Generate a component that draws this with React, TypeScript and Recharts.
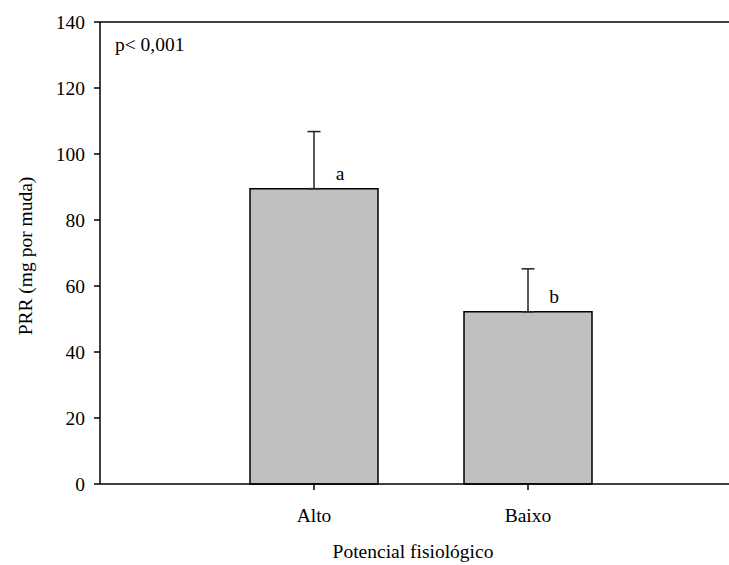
import React from "react";
import {
  BarChart,
  Bar,
  XAxis,
  YAxis,
  ErrorBar,
  LabelList,
  Label,
  ReferenceLine,
} from "recharts";

// categories and values
const categories = ["Alto", "Baixo"];
const means = [89.5, 52.2];
const errorsUp = [17.3, 13.0];
const letters = ["a", "b"];
const yTicks = [0, 20, 40, 60, 80, 100, 120, 140];

const data = categories.map((c, i) => ({
  name: c,
  value: means[i],
  err: [0, errorsUp[i]],
  letter: letters[i],
}));

const FONT = "Liberation Serif, Times New Roman, DejaVu Serif, serif";
const FS = 19.5;
const txt = { fontFamily: FONT, fontSize: FS };

const LetterLabel = (props: any) => {
  const { x, y, width, value } = props;
  return (
    <text
      x={x + width / 2 + 26}
      y={y - 9}
      textAnchor="middle"
      style={txt}
      fill="#000"
    >
      {value}
    </text>
  );
};

const App: React.FC = () => {
  return (
    <div style={{ position: "absolute", left: 0, top: 0, fontFamily: FONT }}>
      <BarChart
        width={729}
        height={565}
        data={data}
        margin={{ top: 22, right: 0, bottom: 0, left: 0 }}
        barCategoryGap={0}
        style={{ fontFamily: FONT }}
      >
        <XAxis
          dataKey="name"
          padding={{ left: 107, right: 94 }}
          height={81}
          tickSize={6}
          tickMargin={18}
          stroke="#000"
          strokeWidth={1.5}
          tick={{ fill: "#000", fontFamily: FONT, fontSize: FS, style: txt }}
        >
          <Label
            content={(p: any) => {
              const vb = p.viewBox;
              return (
                <text
                  x={413}
                  y={vb.y + 74}
                  textAnchor="middle"
                  style={txt}
                  fill="#000"
                >
                  Potencial fisiológico
                </text>
              );
            }}
          />
        </XAxis>
        <YAxis
          domain={[0, 140]}
          ticks={yTicks}
          width={100}
          tickSize={6}
          tickMargin={9}
          stroke="#000"
          strokeWidth={1.5}
          tick={{ fill: "#000", fontFamily: FONT, fontSize: FS, style: txt }}
        >
          <Label
            content={(p: any) => {
              const vb = p.viewBox;
              const cx = vb.x + 25;
              const cy = vb.y + vb.height / 2 + 3;
              return (
                <text
                  x={cx}
                  y={cy}
                  transform={`rotate(-90 ${cx} ${cy})`}
                  textAnchor="middle"
                  dominantBaseline="central"
                  style={txt}
                  fill="#000"
                >
                  PRR (mg por muda)
                </text>
              );
            }}
          />
          <Label
            content={(p: any) => {
              const vb = p.viewBox;
              return (
                <text
                  x={vb.x + vb.width + 15}
                  y={vb.y + 29}
                  style={txt}
                  fill="#000"
                >
                  p&lt; 0,001
                </text>
              );
            }}
          />
        </YAxis>
        <ReferenceLine y={140} stroke="#000" strokeWidth={1.5} />
        <Bar
          dataKey="value"
          barSize={128}
          fill="#c0c0c0"
          stroke="#000"
          strokeWidth={1.5}
          isAnimationActive={false}
        >
          <ErrorBar
            dataKey="err"
            direction="y"
            width={6.5}
            stroke="#222"
            strokeWidth={1.5}
            isAnimationActive={false}
          />
          <LabelList dataKey="letter" content={LetterLabel} />
        </Bar>
      </BarChart>
    </div>
  );
};

export default App;
